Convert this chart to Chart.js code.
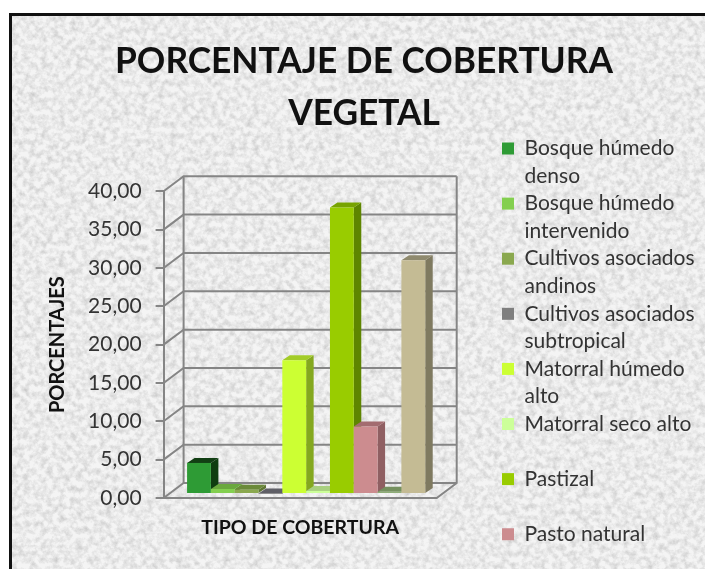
<!DOCTYPE html>
<html>
<head>
<meta charset="utf-8">
<style>
  html, body { margin: 0; padding: 0; background: #fff; }
  #frame {
    position: absolute; left: 9px; top: 13px; width: 696px; height: 556px;
    border: solid #111; border-width: 3px 0 0 3px; box-sizing: border-box;
    background-color: #e8e8e8;
    background-image: url("data:image/svg+xml;utf8,<svg xmlns='http://www.w3.org/2000/svg' width='696' height='556'><filter id='n'><feTurbulence type='fractalNoise' baseFrequency='0.17' numOctaves='4' seed='7'/><feColorMatrix values='0 0 0 0 0.55  0 0 0 0 0.55  0 0 0 0 0.55  1.5 0 0 0 -0.54'/></filter><rect width='696' height='556' fill='%23f4f4f4'/><rect width='696' height='556' filter='url(%23n)'/></svg>");
  }
  #wrap { position: absolute; left: 0; top: 0; width: 705px; height: 569px; }
</style>
<script src="https://cdn.jsdelivr.net/npm/chart.js@4"></script>
</head>
<body>
<div id="frame"></div>
<div id="wrap"><canvas id="chart" width="705" height="569"></canvas></div>
<script>
const categories = ['Cobertura'];
const seriesNames = [
  ['Bosque húmedo', 'denso'],
  ['Bosque húmedo', 'intervenido'],
  ['Cultivos asociados', 'andinos'],
  ['Cultivos asociados', 'subtropical'],
  ['Matorral húmedo', 'alto'],
  ['Matorral seco alto', ''],
  ['Pastizal', ''],
  ['Pasto natural', ''],
  ['Serie 9', ''],
  ['Serie 10', '']
];
const seriesValues = [4.05, 0.65, 0.55, 0.05, 17.45, 0.4, 37.35, 8.8, 0.3, 30.5];
const seriesColors = ['#2e9b35', '#83cf4f', '#8aa84e', '#7f7f7f', '#ccff33', '#ccff99', '#99cc00', '#cc8c8f', '#8fae78', '#c4bb94'];
const sideColors = ['#0f3d10', '#5f9a35', '#5e7533', '#4f4f55', '#84a81f', '#9cc470', '#5e8500', '#8f5f62', '#66805a', '#7f7a60'];
const topColors = ['#123f14', '#6aa83e', '#6b8a3a', '#5f5f66', '#a3cc28', '#a9d080', '#77a300', '#a36c70', '#75905f', '#8f8a6e'];
const yTicks = [0, 5, 10, 15, 20, 25, 30, 35, 40];

const wallColor = '#858585';
const depthX = 20, depthY = -15;
const barDX = 7.5, barDY = -5;
const shiftX = 6, shiftY = -4;

const box3d = {
  id: 'box3d',
  afterLayout(chart) {
    // leyenda y titulo fijos, como en el original
    const lg = chart.legend;
    lg.left = 502; lg.right = 705;
    lg.top = 138; lg.bottom = 569;
    chart.titleBlock.left = 0;
    chart.titleBlock.right = 728;
  },
  beforeDatasetsDraw(chart) {
    const { ctx, chartArea: a, scales: { y } } = chart;
    ctx.save();
    ctx.strokeStyle = wallColor;
    ctx.lineWidth = 2;
    yTicks.forEach(t => {
      const py = y.getPixelForValue(t);
      ctx.beginPath();
      ctx.moveTo(a.left, py);
      ctx.lineTo(a.left + depthX, py + depthY);
      ctx.lineTo(a.right + depthX, py + depthY);
      ctx.stroke();
    });
    const top = y.getPixelForValue(40), base = y.getPixelForValue(0);
    ctx.beginPath();
    ctx.moveTo(a.left + depthX, top + depthY);
    ctx.lineTo(a.left + depthX, base + depthY);
    ctx.moveTo(a.right + depthX, top + depthY);
    ctx.lineTo(a.right + depthX, base + depthY);
    ctx.lineTo(a.right, base);
    ctx.lineTo(a.left, base);
    ctx.stroke();
    ctx.restore();
  },
  // las barras se dibujan abajo, de izquierda a derecha
  beforeDatasetDraw() { return false; },
  afterDatasetsDraw(chart) {
    const { ctx } = chart;
    ctx.save();
    ctx.translate(shiftX, shiftY);
    chart.data.datasets.forEach((ds, i) => {
      const bar = chart.getDatasetMeta(i).data[0];
      const half = bar.width / 2;
      const l = bar.x - half, r = bar.x + half, t = bar.y, b = bar.base;
      ctx.fillStyle = sideColors[i];
      ctx.beginPath();
      ctx.moveTo(r, b);
      ctx.lineTo(r + barDX, b + barDY);
      ctx.lineTo(r + barDX, t + barDY);
      ctx.lineTo(r, t);
      ctx.fill();
      ctx.fillStyle = topColors[i];
      ctx.beginPath();
      ctx.moveTo(l, t);
      ctx.lineTo(l + barDX, t + barDY);
      ctx.lineTo(r + barDX, t + barDY);
      ctx.lineTo(r, t);
      ctx.fill();
      bar.draw(ctx);
    });
    ctx.restore();
  }
};

new Chart(document.getElementById('chart'), {
  type: 'bar',
  data: {
    labels: categories,
    datasets: seriesNames.map((name, i) => ({
      label: name,
      data: [seriesValues[i]],
      backgroundColor: seriesColors[i],
      borderWidth: 0
    }))
  },
  plugins: [box3d],
  options: {
    responsive: false,
    animation: false,
    layout: { padding: { left: 24, top: 35.5, right: 118.3, bottom: 21 } },
    datasets: { bar: { categoryPercentage: 0.872, barPercentage: 1 } },
    plugins: {
      tooltip: { enabled: false },
      title: {
        display: true,
        text: ['PORCENTAJE DE COBERTURA', 'VEGETAL'],
        color: '#111',
        font: { family: 'Lato', size: 35.3, weight: 'bold', lineHeight: 1.47 },
        padding: { top: 0, bottom: 52 }
      },
      legend: {
        position: 'right',
        align: 'start',
        maxWidth: 150,
        labels: {
          color: '#333',
          font: { family: 'Lato', size: 21, lineHeight: 1.312 },
          boxWidth: 12,
          boxHeight: 12,
          padding: 0,
          filter: item => item.datasetIndex < 8
        }
      }
    },
    scales: {
      x: {
        afterFit(scale) { scale.height = 50; },
        ticks: { display: false },
        grid: { display: false },
        border: { display: false },
        title: {
          display: true,
          text: 'TIPO DE COBERTURA',
          color: '#111',
          font: { family: 'Lato', size: 19.5, weight: 'bold' },
          padding: { top: 0, bottom: 9 }
        }
      },
      y: {
        min: 0,
        max: 40,
        afterFit(scale) { scale.width = 139.6; },
        afterBuildTicks(axis) { axis.ticks = yTicks.map(v => ({ value: v })); },
        ticks: {
          color: '#333',
          font: { family: 'Lato', size: 21 },
          padding: 14,
          callback: v => v.toFixed(2).replace('.', ',')
        },
        grid: { drawOnChartArea: false, color: wallColor, lineWidth: 2, tickLength: 8 },
        border: { display: true, color: wallColor, width: 2 },
        title: {
          display: true,
          text: 'PORCENTAJES',
          color: '#111',
          font: { family: 'Lato', size: 20, weight: 'bold' },
          padding: { top: 22, bottom: 0 }
        }
      }
    }
  }
});
</script>
</body>
</html>
